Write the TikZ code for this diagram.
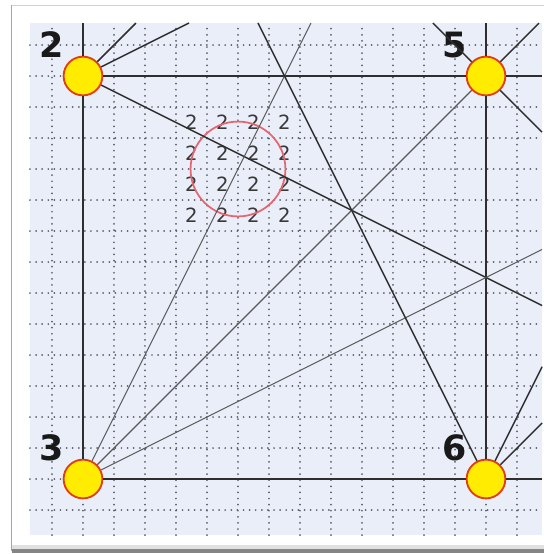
\documentclass[tikz,border=0pt]{standalone}
\usepackage{fontspec}
\setmainfont{DejaVu Sans}
\usepackage{tikz}
\usetikzlibrary{positioning}
\definecolor{panelblue}{RGB}{234,238,248}
\definecolor{nodeyellow}{RGB}{255,236,0}
\definecolor{nodered}{RGB}{226,62,22}
\definecolor{ringred}{RGB}{228,102,112}
\definecolor{griddot}{RGB}{90,94,106}

\begin{document}
\begin{tikzpicture}[
            vertex/.style={draw=nodered, line width=1.7pt, fill=nodeyellow, circle, minimum size=1.25cm, inner sep=0pt},
            tag/.style={font=\bfseries\fontsize{32}{32}\selectfont, black!90},
            cellnum/.style={font=\fontsize{18}{18}\selectfont, black!78},
            wire/.style={draw, line width=1.3pt, black!82},
            thinwire/.style={draw, line width=1pt, black!65},
            dotgrid/.style={draw=griddot, line width=1.8pt, line cap=round, dash pattern=on 0pt off 5.6pt}
        ]
            % Frame
            \useasboundingbox (-2.677,-15.419) rectangle (14.871,2.452);
            \fill [white] (-2.677,-15.419) rectangle (14.871,2.452);
            \draw [black!18, line width=0.6pt] (-2.3,2.29) -- (14.871,2.29);
            \fill [black!12] (-2.3,-15.26) rectangle (14.871,-15.12);
            \fill [black!48] (-2.3,-15.39) rectangle (14.871,-15.26);
            \draw [black!35, line width=1.3pt] (-2.3,2.29) -- (-2.3,-15.33);

            % Panel and dotted grid
            \fill [panelblue] (-1.71,-14.81) rectangle (14.81,1.71);
            \draw [dotgrid, step=1] (-1.71,-14.81) grid (14.81,1.71);

            % Cell numbers
            \foreach \i in {0,...,3}
                \foreach \j in {0,...,3}
                    \node (c\i\j) at (3.5+\i,-1.5-\j) [cellnum] {2};

            % Ring
            \node (ring) at (5,-3) [circle, draw=ringred, line width=1.6pt, minimum size=3.06cm] {};

            % Points
            \node (n2) at (0,0) [vertex] {};
            \node (n5) at (13,0) [vertex] {};
            \node (n3) at (0,-13) [vertex] {};
            \node (n6) at (13,-13) [vertex] {};
            \node (l2) at (-1,1) [tag] {2};
            \node (l5) at (12,1) [tag] {5};
            \node (l3) at (-1,-12) [tag] {3};
            \node (l6) at (12,-12) [tag] {6};

            % Ends on the panel edge
            \coordinate (top2) at (0,1.71);
            \coordinate (t2a) at (1.71,1.71);
            \coordinate (t2b) at (3.42,1.71);
            \coordinate (r2) at (14.81,0);
            \coordinate (r2b) at (14.81,-7.405);
            \coordinate (top5) at (13,1.71);
            \coordinate (t5a) at (11.29,1.71);
            \coordinate (t5b) at (14.71,1.71);
            \coordinate (r5) at (14.81,-1.81);
            \coordinate (t3) at (7.355,1.71);
            \coordinate (r3a) at (14.81,-5.595);
            \coordinate (r3) at (14.81,-13);
            \coordinate (t6) at (5.645,1.71);
            \coordinate (r6a) at (14.81,-9.38);
            \coordinate (r6b) at (14.81,-11.19);

            % Lines through the points
            \draw [wire] (n2) -- (n5);
            \draw [wire] (n5) -- (r2);
            \draw [wire] (top2) -- (n2);
            \draw [wire] (n2) -- (n3);
            \draw [wire] (n2) -- (t2a);
            \draw [wire] (n2) -- (t2b);
            \draw [wire] (n2) -- (r2b);
            \draw [wire] (top5) -- (n5);
            \draw [wire] (n5) -- (n6);
            \draw [wire] (n5) -- (t5a);
            \draw [wire] (n5) -- (t5b);
            \draw [wire] (n5) -- (r5);
            \draw [wire] (n3) -- (n6);
            \draw [wire] (n6) -- (r3);
            \draw [thinwire] (n3) -- (n5);
            \draw [thinwire] (n3) -- (t3);
            \draw [thinwire] (n3) -- (r3a);
            \draw [wire] (n6) -- (t6);
            \draw [wire] (n6) -- (r6a);
            \draw [wire] (n6) -- (r6b);
        \end{tikzpicture}
\end{document}
